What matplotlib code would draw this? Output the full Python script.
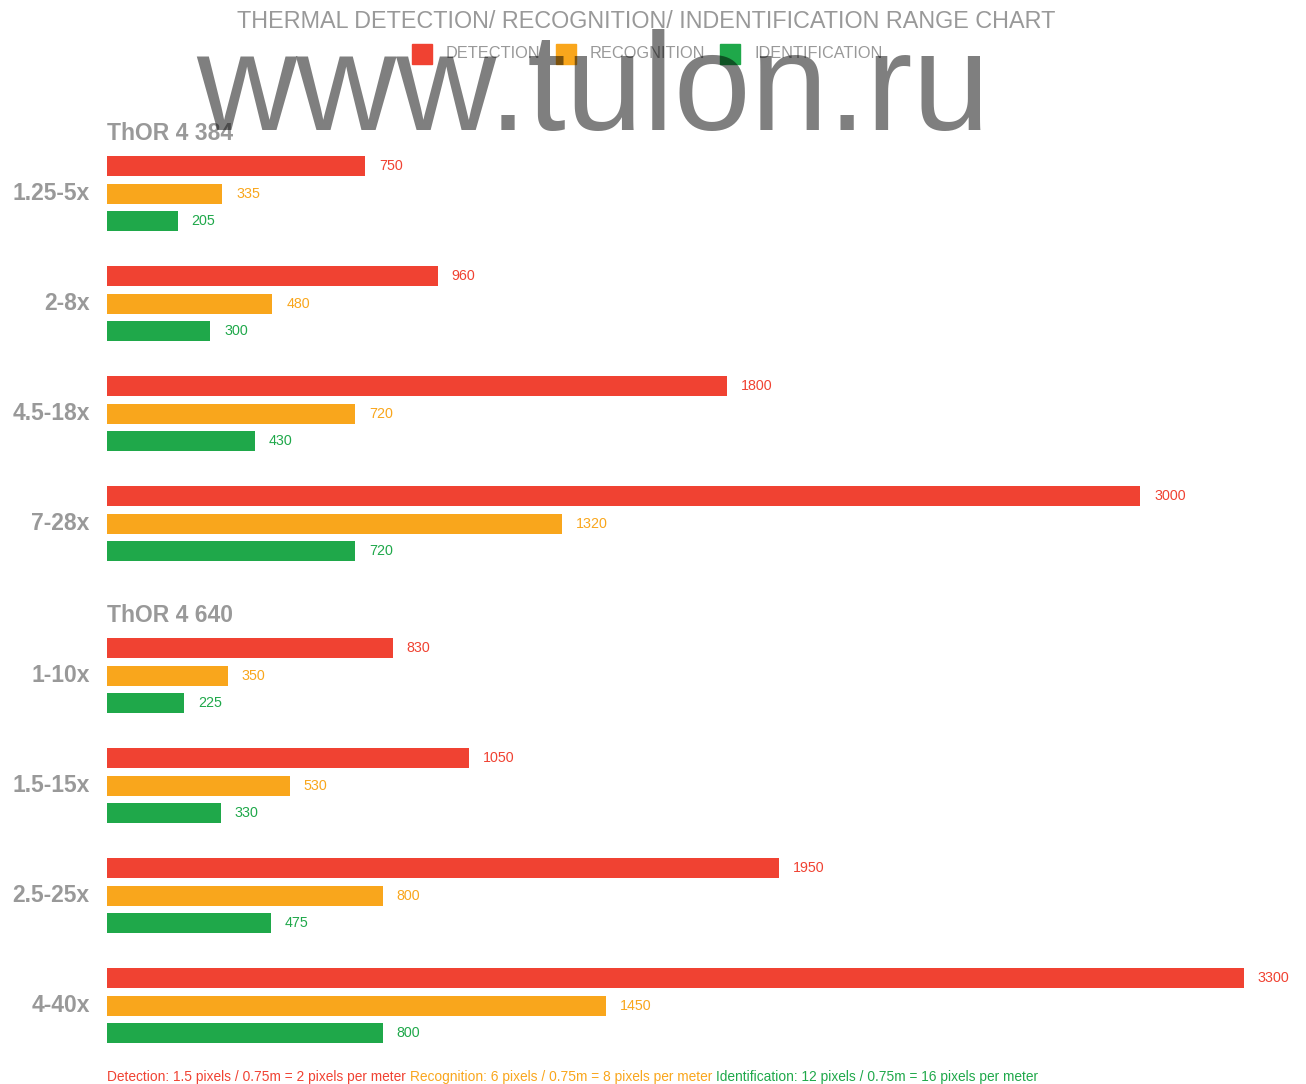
import matplotlib.pyplot as plt
from matplotlib.patches import Rectangle

models = ['ThOR 4 384', 'ThOR 4 640']
zooms = ['1.25-5x', '2-8x', '4.5-18x', '7-28x', '1-10x', '1.5-15x', '2.5-25x', '4-40x']
model_of = [0, 0, 0, 0, 1, 1, 1, 1]
detection = [750, 960, 1800, 3000, 830, 1050, 1950, 3300]
recognition = [335, 480, 720, 1320, 350, 530, 800, 1450]
identification = [205, 300, 430, 720, 225, 330, 475, 800]
series_names = ['DETECTION', 'RECOGNITION', 'IDENTIFICATION']
colors = ['#f04232', '#f9a61c', '#1fa84a']
notes = ['Detection: 1.5 pixels / 0.75m = 2 pixels per meter ',
         'Recognition: 6 pixels / 0.75m = 8 pixels per meter ',
         'Identification: 12 pixels / 0.75m = 16 pixels per meter']

font = 'Liberation Sans'
gray = '#999999'

W, H = 1306, 1084
fig = plt.figure(figsize=(W / 100, H / 100), dpi=100)
fig.canvas.draw()
r = fig.canvas.get_renderer()


def fit(t, width):
    # shrink/grow a text so it spans the given pixel width
    w = t.get_window_extent(r).width
    t.set_fontsize(t.get_fontsize() * width / w)
    return t


# main axes: x in metres, y in pixel rows (top = 0)
ax = fig.add_axes([107 / W, 0, 1 - 107 / W, 1])
ax.set_xlim(0, (W - 107) / 0.3444)
ax.set_ylim(H, 0)
ax.axis('off')

first, step, gap, bar_step, bar_h = 166, 110, 42, 27.5, 20
series = [detection, recognition, identification]
for i, z in enumerate(zooms):
    y0 = first + step * i + gap * model_of[i]
    if i == 0 or model_of[i] != model_of[i - 1]:
        ax.text(0, y0 - 32, models[model_of[i]], ha='left', va='center',
                fontsize=16.5, fontweight='bold', color=gray, family=font)
    for k, vals in enumerate(series):
        y = y0 + k * bar_step
        ax.barh(y, vals[i], height=bar_h, color=colors[k], edgecolor='none')
        ax.annotate(str(vals[i]), (vals[i], y), xytext=(10, 0), textcoords='offset points',
                    ha='left', va='center', fontsize=10.3, color=colors[k], family=font)
    ax.annotate(z, (0, y0 + bar_step), xytext=(-12.5, 0), textcoords='offset points',
                ha='right', va='center', fontsize=16.5, fontweight='bold', color=gray,
                family=font)

title = fig.text(646 / W, 1 - 21 / H,
                 'THERMAL DETECTION/ RECOGNITION/ INDENTIFICATION RANGE CHART',
                 ha='center', va='center', fontsize=17, color=gray, family=font)
fit(title, 818)

# legend: squares and labels
sq_x = [412, 556, 720]
lab_w = [94, 115, 128]
for sx, c, name, lw in zip(sq_x, colors, series_names, lab_w):
    fig.patches.append(Rectangle((sx / W, 1 - 64 / H), 20 / W, 20 / H, color=c,
                                 transform=fig.transFigure, figure=fig))
    t = fig.text((sx + 34) / W, 1 - 54 / H, name, ha='left', va='center',
                 fontsize=12, color=gray, family=font)
    fit(t, lw)

# footnote, three coloured pieces in a row
pieces = []
for txt, c in zip(notes, colors):
    pieces.append(fig.text(0, 1 - 1077 / H, txt, ha='left', va='center', fontsize=10,
                           color=c, family=font))
total = sum(p.get_window_extent(r).width for p in pieces)
x = 107
for p in pieces:
    p.set_fontsize(10 * 934 / total)
    p.set_x(x / W)
    x += p.get_window_extent(r).width

wm = fig.text(593 / W, 1 - 130 / H, 'www.tulon.ru', ha='center', va='baseline',
              fontsize=100, color='black', alpha=0.5, family=font)
fit(wm, 793)

fig.savefig('out.png', dpi=100, facecolor='white')
